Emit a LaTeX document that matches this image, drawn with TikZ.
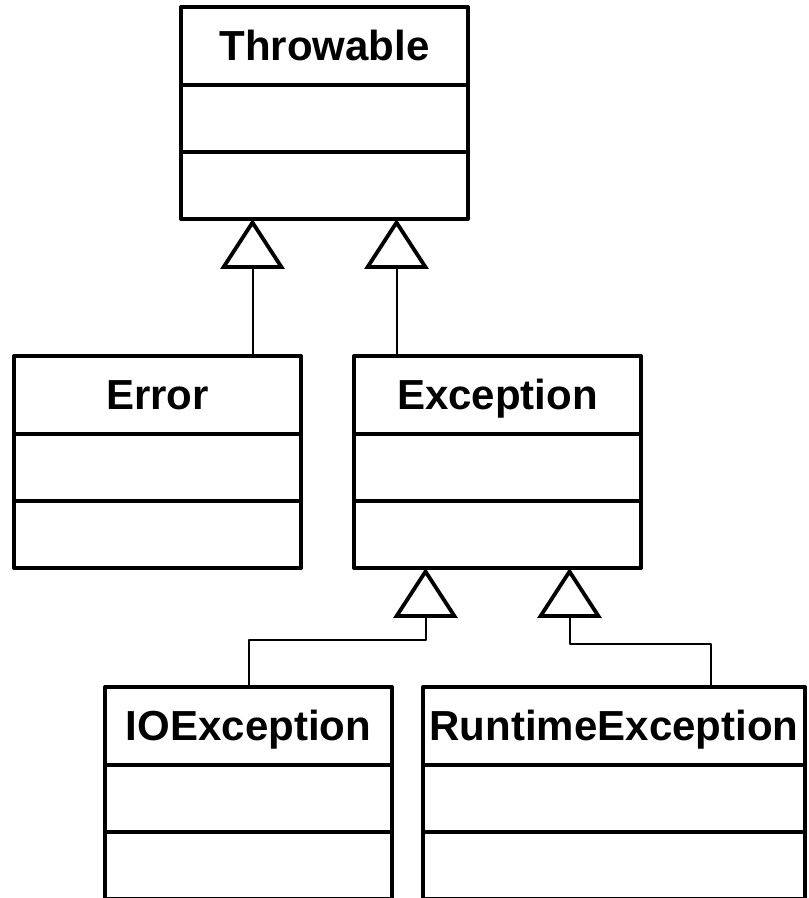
\documentclass[tikz,border=0pt]{standalone}
\usepackage{fontspec}
\setmainfont{Liberation Sans}
\usetikzlibrary{positioning,arrows.meta}
\tikzset{>=latex}

\begin{document}
\begin{tikzpicture}[
	x=1pt, y=1pt,
	line cap=round, line join=round,
	classname/.style={draw, line width=4pt, outer sep=0pt, inner sep=0pt,
		minimum width=#1, minimum height=78pt, text height=30pt, text depth=0pt,
		font=\fontsize{42}{50}\selectfont\bfseries},
	classname/.default=287pt,
	classpart/.style={draw, line width=4pt, outer sep=0pt, inner sep=0pt,
		minimum width=#1, minimum height=67pt},
	classpart/.default=287pt,
	inherit/.style={line width=2pt,
		-{Triangle[open, length=50pt, width=64pt, line width=3.8pt]}}
]
	\useasboundingbox (0,0) rectangle (809,898);
	\clip (0,0) rectangle (809,898);

	% root class
	\node[classname, anchor=north west] (throwable) at (181,891) {Throwable};
	\node[classpart, below=0pt of throwable] (throwable-a) {};
	\node[classpart, below=0pt of throwable-a] (throwable-m) {};

	% second row
	\node[classname, anchor=north west] (error) at (14,542) {Error};
	\node[classpart, below=0pt of error] (error-a) {};
	\node[classpart, below=0pt of error-a] (error-m) {};

	\node[classname, anchor=north west] (exception) at (354,542) {Exception};
	\node[classpart, below=0pt of exception] (exception-a) {};
	\node[classpart, below=0pt of exception-a] (exception-m) {};

	% third row (runs off the page)
	\node[classname, anchor=north west] (ioexception) at (105,211) {IOException};
	\node[classpart, below=0pt of ioexception] (ioexception-a) {};
	\node[classpart, below=0pt of ioexception-a] (ioexception-m) {};

	\node[classname=382pt, anchor=north west] (runtime) at (423,211) {RuntimeException};
	\node[classpart=382pt, below=0pt of runtime] (runtime-a) {};
	\node[classpart=382pt, below=0pt of runtime-a] (runtime-m) {};

	% inheritance arrows
	\coordinate (tip1) at ([xshift=-72pt]throwable-m.south);
	\coordinate (tip2) at ([xshift=72pt]throwable-m.south);
	\coordinate (tip3) at ([xshift=-72pt]exception-m.south);
	\coordinate (tip4) at ([xshift=72pt]exception-m.south);
	\draw[inherit] (error.north -| tip1) -- (tip1);
	\draw[inherit] (exception.north -| tip2) -- (tip2);
	\draw[inherit] (ioexception.north) -- ++(0,47) -| (tip3);
	\draw[inherit] ([xshift=97pt]runtime.north) -- ++(0,43) -| (tip4);
\end{tikzpicture}
\end{document}
